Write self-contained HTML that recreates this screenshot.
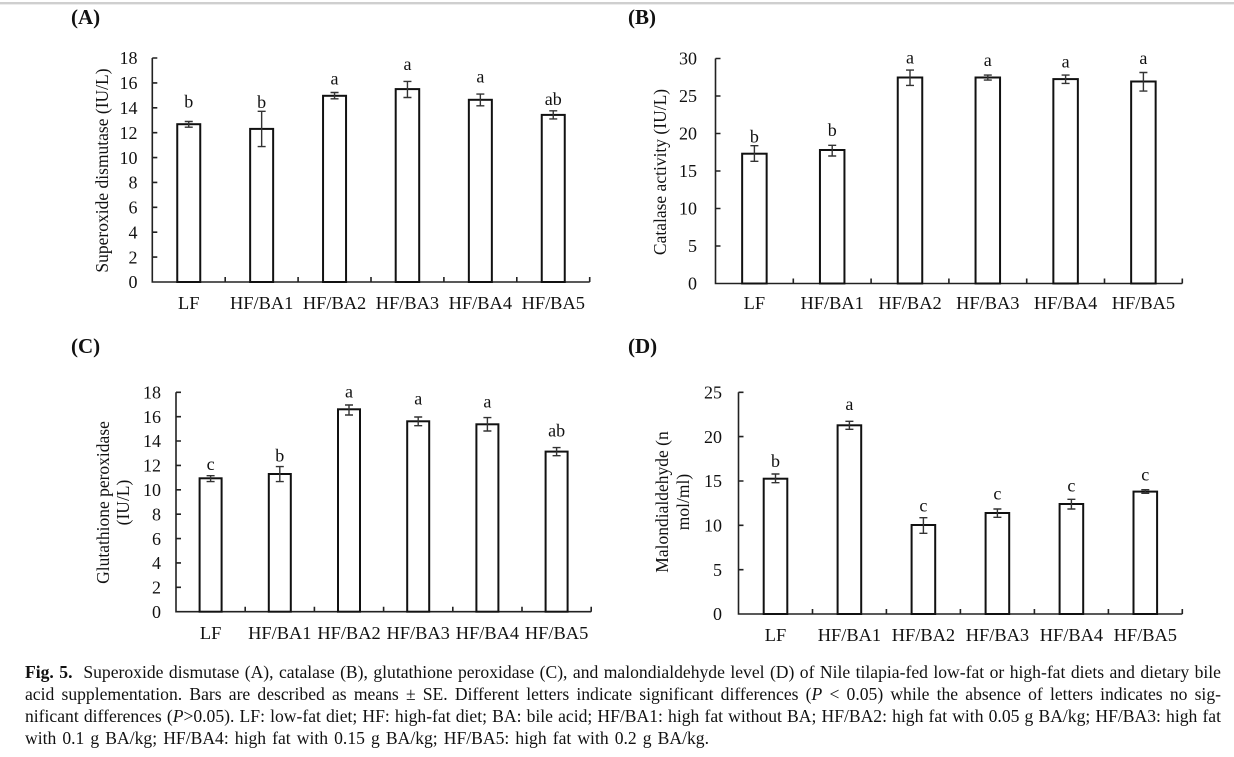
<!DOCTYPE html>
<html>
<head>
<meta charset="utf-8">
<style>
html,body{margin:0;padding:0;background:#fff;}
body{width:1234px;height:757px;position:relative;overflow:hidden;}
svg{position:absolute;left:0;top:0;}
.cap{position:absolute;left:25px;font-family:"Liberation Serif",serif;font-size:17.6px;color:#111;white-space:nowrap;text-align:justify;text-align-last:justify;line-height:21px;}
</style>
</head>
<body>
<svg width="1234" height="757" viewBox="0 0 1234 757" font-family="Liberation Serif, serif" fill="#111">
<rect x="0" y="2" width="1234" height="2" fill="#cfcfcf"/>
<rect x="0" y="4" width="1234" height="1" fill="#ececec"/>

<!-- Panel A -->
<text x="71" y="24" font-size="21" font-weight="bold">(A)</text>
<g stroke="#222" stroke-width="1.6" fill="none">
<path d="M152.3,58 V282 H589.7"/>
<path d="M152.3,58 h5 M152.3,82.9 h5 M152.3,107.8 h5 M152.3,132.7 h5 M152.3,157.6 h5 M152.3,182.4 h5 M152.3,207.3 h5 M152.3,232.2 h5 M152.3,257.1 h5"/>
<path d="M225.2,282 v-5 M298.1,282 v-5 M371,282 v-5 M443.9,282 v-5 M516.8,282 v-5 M589.7,282 v-5"/>
</g>
<g font-size="18" text-anchor="end">
<text x="137.5" y="64.2">18</text><text x="137.5" y="89.1">16</text><text x="137.5" y="114">14</text><text x="137.5" y="138.9">12</text><text x="137.5" y="163.8">10</text><text x="137.5" y="188.6">8</text><text x="137.5" y="213.5">6</text><text x="137.5" y="238.4">4</text><text x="137.5" y="263.3">2</text><text x="137.5" y="288.2">0</text>
</g>
<text transform="translate(108,170.5) rotate(-90)" font-size="17.5" text-anchor="middle">Superoxide dismutase (IU/L)</text>
<g stroke="#111" stroke-width="2" fill="#fff">
<rect x="177.25" y="124.2" width="23" height="157.8"/>
<rect x="250.15" y="128.9" width="23" height="153.1"/>
<rect x="323.05" y="95.8" width="23" height="186.2"/>
<rect x="395.7" y="89.1" width="23.5" height="192.9"/>
<rect x="468.85" y="99.8" width="23" height="182.2"/>
<rect x="541.75" y="114.9" width="23" height="167.1"/>
</g>
<g stroke="#333" stroke-width="1.4" fill="none">
<path d="M188.75,121.5 V127.2 M184.75,121.5 h8 M184.75,127.2 h8"/>
<path d="M261.65,111.3 V146.6 M257.65,111.3 h8 M257.65,146.6 h8"/>
<path d="M334.55,92.5 V98.8 M330.55,92.5 h8 M330.55,98.8 h8"/>
<path d="M407.45,81.4 V97.5 M403.45,81.4 h8 M403.45,97.5 h8"/>
<path d="M480.35,94.1 V105.8 M476.35,94.1 h8 M476.35,105.8 h8"/>
<path d="M553.25,110.8 V118.9 M549.25,110.8 h8 M549.25,118.9 h8"/>
</g>
<g font-size="18" text-anchor="middle">
<text x="188.75" y="107.6">b</text><text x="261.65" y="108">b</text><text x="334.55" y="84.6">a</text><text x="407.45" y="70.2">a</text><text x="480.35" y="82.7">a</text><text x="553.25" y="105">ab</text>
</g>
<g font-size="18.4" text-anchor="middle">
<text x="188.75" y="309">LF</text><text x="261.65" y="309">HF/BA1</text><text x="334.55" y="309">HF/BA2</text><text x="407.45" y="309">HF/BA3</text><text x="480.35" y="309">HF/BA4</text><text x="553.25" y="309">HF/BA5</text>
</g>

<!-- Panel B -->
<text x="628" y="24" font-size="21" font-weight="bold">(B)</text>
<g stroke="#222" stroke-width="1.6" fill="none">
<path d="M715.5,58.5 V283.5 H1182.3"/>
<path d="M715.5,58.5 h5 M715.5,96 h5 M715.5,133.5 h5 M715.5,171 h5 M715.5,208.5 h5 M715.5,246 h5"/>
<path d="M793.3,283.5 v-5 M871.1,283.5 v-5 M948.9,283.5 v-5 M1026.7,283.5 v-5 M1104.5,283.5 v-5 M1182.3,283.5 v-5"/>
</g>
<g font-size="18" text-anchor="end">
<text x="697" y="64.7">30</text><text x="697" y="102.2">25</text><text x="697" y="139.7">20</text><text x="697" y="177.2">15</text><text x="697" y="214.7">10</text><text x="697" y="252.2">5</text><text x="697" y="289.7">0</text>
</g>
<text transform="translate(666,172) rotate(-90)" font-size="17.5" text-anchor="middle">Catalase activity (IU/L)</text>
<g stroke="#111" stroke-width="2" fill="#fff">
<rect x="742.15" y="153.7" width="24.5" height="129.8"/>
<rect x="819.95" y="150" width="24.5" height="133.5"/>
<rect x="897.75" y="77.5" width="24.5" height="206"/>
<rect x="975.55" y="77.5" width="24.5" height="206"/>
<rect x="1053.35" y="79.1" width="24.5" height="204.4"/>
<rect x="1131.15" y="81.5" width="24.5" height="202"/>
</g>
<g stroke="#333" stroke-width="1.4" fill="none">
<path d="M754.4,145.65 V161.3 M750.4,145.65 h8 M750.4,161.3 h8"/>
<path d="M832.2,145.35 V156 M828.2,145.35 h8 M828.2,156 h8"/>
<path d="M910,70.1 V85.4 M906,70.1 h8 M906,85.4 h8"/>
<path d="M987.8,75.1 V80.1 M983.8,75.1 h8 M983.8,80.1 h8"/>
<path d="M1065.6,75.1 V83.4 M1061.6,75.1 h8 M1061.6,83.4 h8"/>
<path d="M1143.4,72.5 V91.1 M1139.4,72.5 h8 M1139.4,91.1 h8"/>
</g>
<g font-size="18" text-anchor="middle">
<text x="754.4" y="142.7">b</text><text x="832.2" y="136">b</text><text x="910" y="63.5">a</text><text x="987.8" y="65.8">a</text><text x="1065.6" y="67.5">a</text><text x="1143.4" y="64.2">a</text>
</g>
<g font-size="18.4" text-anchor="middle">
<text x="754.4" y="309">LF</text><text x="832.2" y="309">HF/BA1</text><text x="910" y="309">HF/BA2</text><text x="987.8" y="309">HF/BA3</text><text x="1065.6" y="309">HF/BA4</text><text x="1143.4" y="309">HF/BA5</text>
</g>

<!-- Panel C -->
<text x="71" y="353" font-size="21" font-weight="bold">(C)</text>
<g stroke="#222" stroke-width="1.6" fill="none">
<path d="M176,392.3 V611.7 H591.2"/>
<path d="M176,392.3 h5 M176,416.7 h5 M176,441 h5 M176,465.4 h5 M176,489.8 h5 M176,514.2 h5 M176,538.6 h5 M176,562.9 h5 M176,587.3 h5"/>
<path d="M245.2,611.7 v-5 M314.4,611.7 v-5 M383.6,611.7 v-5 M452.8,611.7 v-5 M522,611.7 v-5 M591.2,611.7 v-5"/>
</g>
<g font-size="18" text-anchor="end">
<text x="161" y="398.5">18</text><text x="161" y="422.9">16</text><text x="161" y="447.2">14</text><text x="161" y="471.6">12</text><text x="161" y="496">10</text><text x="161" y="520.4">8</text><text x="161" y="544.8">6</text><text x="161" y="569.1">4</text><text x="161" y="593.5">2</text><text x="161" y="617.9">0</text>
</g>
<text transform="translate(109,502.5) rotate(-90)" font-size="17.5" text-anchor="middle">Glutathione peroxidase</text>
<text transform="translate(129,502.5) rotate(-90)" font-size="17.5" text-anchor="middle">(IU/L)</text>
<g stroke="#111" stroke-width="2" fill="#fff">
<rect x="199.6" y="478.3" width="22" height="133.4"/>
<rect x="268.8" y="474" width="22" height="137.7"/>
<rect x="338" y="409.3" width="22" height="202.4"/>
<rect x="407.2" y="421.3" width="22" height="190.4"/>
<rect x="476.4" y="424.3" width="22" height="187.4"/>
<rect x="545.6" y="451.6" width="22" height="160.1"/>
</g>
<g stroke="#333" stroke-width="1.4" fill="none">
<path d="M210.6,475.7 V481.6 M206.6,475.7 h8 M206.6,481.6 h8"/>
<path d="M279.8,466.6 V481.6 M275.8,466.6 h8 M275.8,481.6 h8"/>
<path d="M349,405 V415 M345,405 h8 M345,415 h8"/>
<path d="M418.2,417 V425.7 M414.2,417 h8 M414.2,425.7 h8"/>
<path d="M487.4,417.6 V431 M483.4,417.6 h8 M483.4,431 h8"/>
<path d="M556.6,447.6 V455.7 M552.6,447.6 h8 M552.6,455.7 h8"/>
</g>
<g font-size="18" text-anchor="middle">
<text x="210.6" y="470">c</text><text x="279.8" y="461.7">b</text><text x="349" y="397.3">a</text><text x="418.2" y="404.6">a</text><text x="487.4" y="407.3">a</text><text x="556.6" y="436.7">ab</text>
</g>
<g font-size="18.4" text-anchor="middle">
<text x="210.6" y="639">LF</text><text x="279.8" y="639">HF/BA1</text><text x="349" y="639">HF/BA2</text><text x="418.2" y="639">HF/BA3</text><text x="487.4" y="639">HF/BA4</text><text x="556.6" y="639">HF/BA5</text>
</g>

<!-- Panel D -->
<text x="628" y="353" font-size="21" font-weight="bold">(D)</text>
<g stroke="#222" stroke-width="1.6" fill="none">
<path d="M738.5,392.3 V614 H1182.3"/>
<path d="M738.5,392.3 h5 M738.5,436.6 h5 M738.5,481 h5 M738.5,525.3 h5 M738.5,569.7 h5"/>
<path d="M812.5,614 v-5 M886.4,614 v-5 M960.4,614 v-5 M1034.4,614 v-5 M1108.4,614 v-5 M1182.3,614 v-5"/>
</g>
<g font-size="18" text-anchor="end">
<text x="722" y="398.5">25</text><text x="722" y="442.8">20</text><text x="722" y="487.2">15</text><text x="722" y="531.5">10</text><text x="722" y="575.9">5</text><text x="722" y="620.2">0</text>
</g>
<text transform="translate(668,502) rotate(-90)" font-size="17.5" text-anchor="middle">Malondialdehyde (n</text>
<text transform="translate(689,502) rotate(-90)" font-size="17.5" text-anchor="middle">mol/ml)</text>
<g stroke="#111" stroke-width="2" fill="#fff">
<rect x="763.7" y="478.7" width="23.6" height="135.3"/>
<rect x="837.6" y="425.3" width="23.6" height="188.7"/>
<rect x="911.6" y="525" width="23.6" height="89"/>
<rect x="985.6" y="513" width="23.6" height="101"/>
<rect x="1059.6" y="504" width="23.6" height="110"/>
<rect x="1133.5" y="491.6" width="23.6" height="122.4"/>
</g>
<g stroke="#333" stroke-width="1.4" fill="none">
<path d="M775.5,474 V482.7 M771.5,474 h8 M771.5,482.7 h8"/>
<path d="M849.4,421.3 V429.3 M845.4,421.3 h8 M845.4,429.3 h8"/>
<path d="M923.4,517.7 V533.3 M919.4,517.7 h8 M919.4,533.3 h8"/>
<path d="M997.4,509 V517.3 M993.4,509 h8 M993.4,517.3 h8"/>
<path d="M1071.4,499.3 V509 M1067.4,499.3 h8 M1067.4,509 h8"/>
<path d="M1145.3,489.7 V493.3 M1141.3,489.7 h8 M1141.3,493.3 h8"/>
</g>
<g font-size="18" text-anchor="middle">
<text x="775.5" y="466.9">b</text><text x="849.4" y="410">a</text><text x="923.4" y="511.7">c</text><text x="997.4" y="499.6">c</text><text x="1071.4" y="491.3">c</text><text x="1145.3" y="480.6">c</text>
</g>
<g font-size="18.4" text-anchor="middle">
<text x="775.5" y="641">LF</text><text x="849.4" y="641">HF/BA1</text><text x="923.4" y="641">HF/BA2</text><text x="997.4" y="641">HF/BA3</text><text x="1071.4" y="641">HF/BA4</text><text x="1145.3" y="641">HF/BA5</text>
</g>
</svg>

<div class="cap" style="top:662px;width:1196px;"><b>Fig. 5.</b>&nbsp; Superoxide dismutase (A), catalase (B), glutathione peroxidase (C), and malondialdehyde level (D) of Nile tilapia-fed low-fat or high-fat diets and dietary bile</div>
<div class="cap" style="top:684px;width:1196px;">acid supplementation. Bars are described as means ± SE. Different letters indicate significant differences (<i>P</i> &lt; 0.05) while the absence of letters indicates no sig-</div>
<div class="cap" style="top:706px;width:1196px;">nificant differences (<i>P</i>&gt;0.05). LF: low-fat diet; HF: high-fat diet; BA: bile acid; HF/BA1: high fat without BA; HF/BA2: high fat with 0.05 g BA/kg; HF/BA3: high fat</div>
<div class="cap" style="top:728px;width:684px;">with 0.1 g BA/kg; HF/BA4: high fat with 0.15 g BA/kg; HF/BA5: high fat with 0.2 g BA/kg.</div>
</body>
</html>
